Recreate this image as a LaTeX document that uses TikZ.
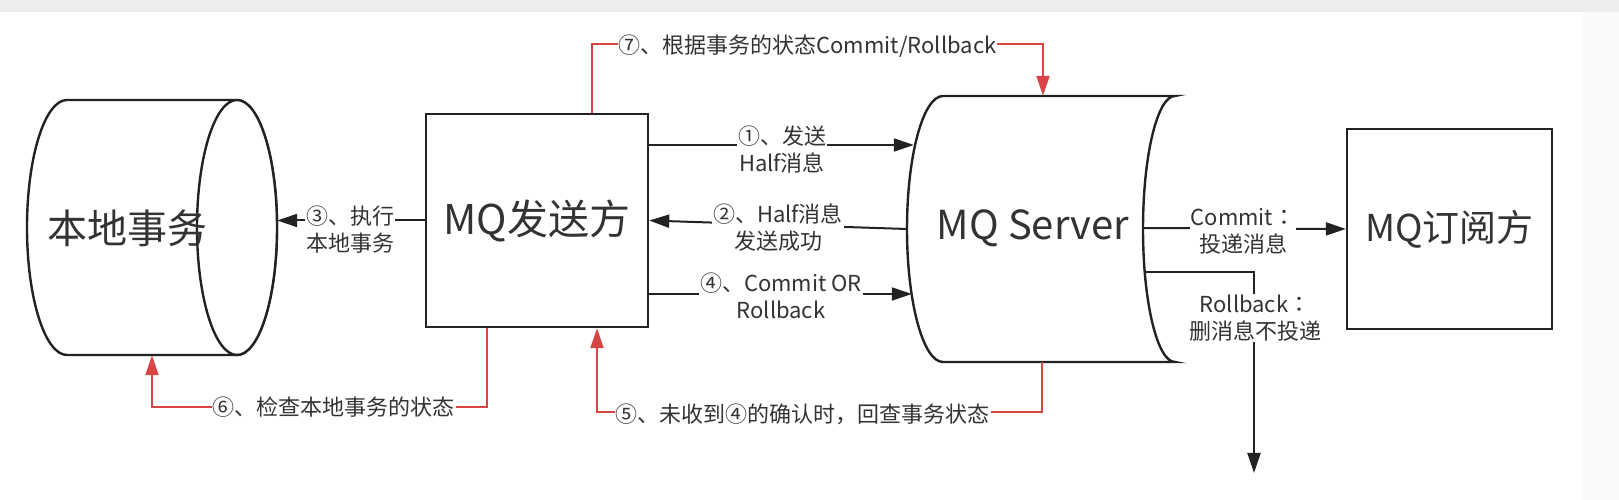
\documentclass[tikz,border=0pt]{standalone}
\usepackage{fontspec}
\newfontfamily\cjk{Noto Sans CJK SC}
\newfontfamily\cjktc{Noto Sans CJK TC}
\usetikzlibrary{arrows.meta,calc}
\definecolor{ink}{HTML}{222222}
\definecolor{txt}{HTML}{333333}
\definecolor{redl}{HTML}{D94545}
\definecolor{topgray}{HTML}{EDEDED}
\definecolor{sidegray}{HTML}{FAFAFA}
\begin{document}
\begin{tikzpicture}[x=1pt,y=1pt,
  frame/.style={inner sep=0pt},
  box/.style={draw=ink, line width=2.4pt, fill=white, inner sep=0pt},
  outline/.style={draw=ink, line width=2.4pt, fill=white},
  big/.style={font=\cjk\fontsize{40}{46}\selectfont, text=txt},
  lab/.style={font=\cjk\fontsize{22}{27}\selectfont, text=txt, fill=white, inner sep=1pt, align=center},
  conn/.style={draw=ink, line width=2pt},
  arr/.style={conn, -{Triangle[length=20pt,width=13pt]}},
  rconn/.style={draw=redl, line width=2pt},
  rarr/.style={rconn, -{Triangle[length=20pt,width=13pt]}}]
\useasboundingbox (0,0) rectangle (1619,500);
\fill[white] (0,0) rectangle (1619,500);
\fill[sidegray] (1583,0) rectangle (1619,488);
\fill[topgray] (0,488) rectangle (1619,500);

% local transaction cylinder
\node[frame, minimum width=250pt, minimum height=255pt] (loc) at (152,272.5) {};
\draw[outline] (67,400) -- (237,400) arc[start angle=90,end angle=-90,x radius=40pt,y radius=127.5pt]
  -- (67,145) arc[start angle=270,end angle=90,x radius=40pt,y radius=127.5pt] -- cycle;
\draw[outline] (237,272.5) ellipse[x radius=40pt,y radius=127.5pt];
\node[big] (loct) at (127,272) {本地事务};

% sender
\node[box, big, font=\cjk\fontsize{41}{46}\selectfont, minimum width=222pt, minimum height=213pt] (snd) at (537,279.5) {MQ发送方};

% server
\node[frame, minimum width=268pt, minimum height=266pt] (srv) at (1041,271) {};
\draw[outline] (943,404) -- (1175,404) arc[start angle=90,end angle=270,x radius=32pt,y radius=133pt]
  -- (943,138) arc[start angle=270,end angle=90,x radius=36pt,y radius=133pt] -- cycle;
\node[big] (srvt) at (1033,272) {MQ Server};

% subscriber
\node[box, big, font=\cjk\fontsize{37}{42}\selectfont, minimum width=205pt, minimum height=200pt] (sub) at (1449.5,271) {MQ订阅方};

% black connectors
\draw[arr] (snd.west) -- (snd.west -| loc.east);
\draw[arr] ($(snd.east)+(0,75.5)$) -- ($(srv.west)+(7,84)$);
\draw[arr] (srv.west) -- (snd.east);
\draw[arr] ($(snd.east)+(0,-73.5)$) -- ($(srv.west)+(5,-65)$);
\draw[arr] ($(srv.east)+(-32,1)$) -- (sub.west);
\coordinate (drop) at (1254,27);
\draw[arr] ($(srv.east)+(-30,-43)$) -| (drop);

% red connectors
\draw[rarr] ($(snd.north)+(54.5,0)$) -- ++(0,69) -| ($(srv.north)+(2,0)$);
\draw[rarr] ($(snd.south)+(-50,0)$) -- ++(0,-79) -| (loc.south);
\draw[rarr] ($(srv.south)+(1,0)$) -- ++(0,-50) -| ($(snd.south)+(60,0)$);

% labels
\node[lab] (l3) at (350,270) {③、执行\\本地事务};
\node[lab] (l1) at (782,350) {①、发送\\Half消息};
\node[lab] (l2) at (778,272) {②、Half消息\\发送成功};
\node[lab] (l4) at (781,204) {④、Commit OR\\Rollback};
\node[lab] (lc) at (1243,269) {Commit{\cjktc ：}\\投递消息};
\node[lab] (lr) at (1255,182) {Rollback{\cjktc ：}\\删消息不投递};
\node[lab] (l7) at (807.5,454) {⑦、根据事务的状态Commit/Rollback};
\node[lab] (l6) at (333.5,93) {⑥、检查本地事务的状态};
\node[lab] (l5) at (802.5,86) {⑤、未收到④的确认时，回查事务状态};
\end{tikzpicture}
\end{document}
